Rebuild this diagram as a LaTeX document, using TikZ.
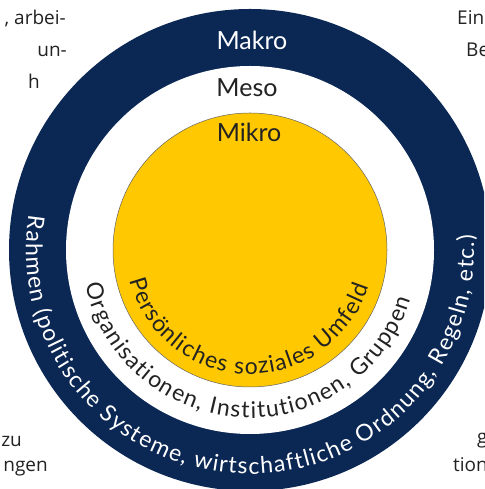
\documentclass[tikz,border=0pt]{standalone}
\usepackage{fontspec}
\setmainfont{Lato}
\newfontfamily\pagefont{Open Sans}
\usetikzlibrary{decorations.text,calc}
\definecolor{navy}{HTML}{0B2855}
\definecolor{sun}{HTML}{FFC800}
\definecolor{ink}{HTML}{222222}
\begin{document}
\begin{tikzpicture}[x=1pt,y=1pt,
  lvl/.style={font=\fontsize{25}{28}\selectfont, anchor=base, inner sep=0pt},
  frag/.style={font=\pagefont\fontsize{19}{22}\selectfont, text=ink, inner sep=0pt},
  arctext/.style={decorate, decoration={text along path, text align=fit to path, text color=#1}}]
\useasboundingbox (0,0) rectangle (484,489);
\fill[white] (0,0) rectangle (484,489);
\begin{scope}
\clip (0,0) rectangle (484,489);
\coordinate (C) at (250,239);
\fill[navy] (C) circle[radius=241];
\fill[white] (C) circle[radius=184];
\filldraw[fill=sun, draw=ink!70, line width=0.5pt] (C) circle[radius=137];
% level labels
\node[lvl, text=white] (makro) at (252,439) {Makro};
\node[lvl, text=ink] (meso) at (247,392) {Meso};
\node[lvl, text=ink] (mikro) at (249,347) {Mikro};
% curved texts
\path[arctext=white, decoration={text={|\fontsize{23}{26}\selectfont|Rahmen (politische Systeme, wirtschaftliche Ordnung, Regeln, etc.)}}]
  ($(C)+(171:224)$) arc[start angle=171, end angle=364, radius=224];
\path[arctext=ink, decoration={text={|\fontsize{23}{26}\selectfont|Organisationen, Institutionen, Gruppen}}]
  ($(C)+(192:168)$) arc[start angle=192, end angle=343, radius=168];
\path[arctext=ink, decoration={text={|\fontsize{23}{26}\selectfont|Persönliches soziales Umfeld}}]
  ($(C)+(194:124)$) arc[start angle=194, end angle=343, radius=124];
% fragments of surrounding page text
\node[frag, anchor=base east] (f1) at (66,464) {, arbei-};
\node[frag, anchor=base east] (f2) at (67,432) {un-};
\node[frag, anchor=base west] (f3) at (28,400) {h};
\node[frag, anchor=base west] (f4) at (457,464) {Ein};
\node[frag, anchor=base west] (f5) at (466,432) {Be};
\node[frag, anchor=base east] (f6) at (22,42) {zu};
\node[frag, anchor=base east] (f7) at (48,17) {ngen};
\node[frag, anchor=base west] (f8) at (477,45) {g};
\node[frag, anchor=base west] (f9) at (453,17) {tion};
\end{scope}
\end{tikzpicture}
\end{document}
